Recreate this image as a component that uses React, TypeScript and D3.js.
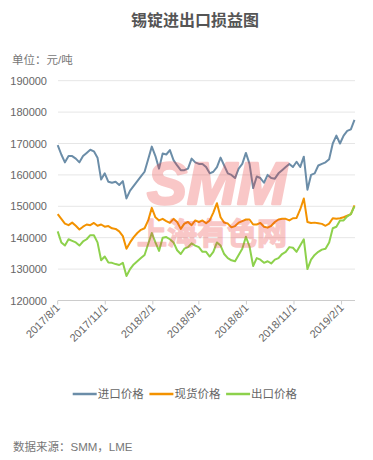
import * as d3 from "d3";
import React from "react";

// weekly readings, 2017/8/1 .. 2019/2/26 (元/吨)
const startDate = new Date(2017, 7, 1);
const importPrice = [
  169500, 166500, 164000, 166000, 166000, 165200, 164000, 166000, 167000, 168000,
  167500, 165500, 158500, 160500, 157800, 157500, 157800, 156800, 158000, 152500,
  155000, 156500, 158000, 159500, 161000, 165000, 169000, 166000, 162000, 166800,
  166500, 167900, 164700, 163000, 161500, 161500, 162000, 165200, 164000, 163500,
  163500, 162500, 160500, 161000, 162500, 165500, 163000, 160500, 160000, 159000,
  162000, 163500, 167000, 163500, 155800, 159500, 159000, 157500, 160000, 159000,
  158800, 160500, 161500, 162500, 163500, 162500, 164200, 162500, 165800, 155300,
  160000, 160500, 163000, 163500, 164000, 165000, 170000, 172500, 170000, 172500,
  174000, 174500, 177500
];
const spotPrice = [
  147500, 146000, 144500, 144000, 144800, 143800, 142600, 143500, 144200, 144000,
  144700, 143800, 144200, 143500, 143700, 143000, 142800, 142000, 140500, 136500,
  138500, 140200, 141500, 142500, 143000, 145500, 149500, 146500, 145500, 146000,
  145300, 144700, 146000, 145000, 142800, 144500, 145000, 144000, 145500, 145000,
  145500, 144600, 145500, 148000, 151000, 146500, 144800, 144500, 143300, 143700,
  144800, 145300, 145800, 145800, 144200, 144200, 144700, 143500, 143200, 143800,
  145000, 145800, 146000, 146000, 145500, 146200, 146300, 149000, 152500, 145000,
  144700, 144800, 144600, 144400, 143800, 144500, 146200, 146000, 146200, 146500,
  147000, 147500, 150300
];
const exportPrice = [
  142000, 138500, 137500, 139500, 139000, 138500, 137500, 138800, 139500, 140800,
  140800, 138500, 132800, 134000, 132100, 132000, 131600, 131300, 132000, 127800,
  130000, 131500, 132500, 133500, 134500, 138000, 141500, 138500, 135800, 140000,
  140200, 139500, 138500, 136000, 134800, 136500, 137000, 138200, 137500, 137000,
  135500, 135500, 134000, 135500, 138500, 137500, 134800, 133500, 132800, 132500,
  134500, 136500, 140300, 137200, 131000, 133500, 133000, 132000, 132500, 131800,
  133000, 133500, 134800, 135500, 137000, 136800, 135500, 137500, 139500, 130000,
  133000, 134500, 135500, 136200, 136500, 138500, 143000, 143500, 145500, 145500,
  146800, 147500, 150000
];
const dates = importPrice.map((_, i) => d3.timeDay.offset(startDate, i * 7));

const seriesNames = ["进口价格", "现货价格", "出口价格"];
const seriesColors = ["#6b8da8", "#f39200", "#8dd14c"];
const seriesValues = [importPrice, spotPrice, exportPrice];

const yTicks = [120000, 130000, 140000, 150000, 160000, 170000, 180000, 190000];
const xTickLabels = ["2017/8/1", "2017/11/1", "2018/2/1", "2018/5/1", "2018/8/1", "2018/11/1", "2019/2/1"];

const W = 373;
const H = 460;
const font = "'Liberation Sans', 'Noto Sans CJK SC', sans-serif";

export default function App() {
  const parse = d3.timeParse("%Y/%m/%d");

  const x = d3
    .scaleTime()
    .domain([new Date(2017, 7, 1), new Date(2019, 1, 27)])
    .range([57.7, 355]);
  const y = d3.scaleLinear().domain([120000, 190000]).range([300.5, 80.7]);

  const line = d3
    .line<number>()
    .x((_, i) => x(dates[i]))
    .y(d => y(d));

  const legendStart = 72.7;
  const legendStep = 76.7;

  return (
    <svg width={W} height={H} style={{position: "absolute", left: 0, top: 0, background: "#fff"}} fontFamily={font}>
      <text x={195} y={26} textAnchor="middle" fontSize={16} fontWeight="bold" fill="#555">
        锡锭进出口损益图
      </text>
      <text x={12} y={64} fontSize={11.5} fill="#777">单位：元/吨</text>

      {/* grid + y labels */}
      {yTicks.map(t => (
        <g key={t}>
          {t > 120000 && (
            <line x1={58} x2={355} y1={y(t)} y2={y(t)} stroke="#e6e6e6" strokeWidth={1}/>
          )}
          <text x={47} y={y(t) + 4} textAnchor="end" fontSize={11} fill="#666">{t}</text>
        </g>
      ))}

      {/* x axis */}
      <line x1={58} x2={355} y1={y(120000)} y2={y(120000)} stroke="#ccc" strokeWidth={1}/>
      {xTickLabels.map(lbl => {
        const tx = x(parse(lbl) as Date);
        return (
          <g key={lbl}>
            <line x1={tx} x2={tx} y1={y(120000)} y2={y(120000) + 4} stroke="#ccc"/>
            <text
              transform={`translate(${tx + 3},${y(120000) + 8}) rotate(-45)`}
              textAnchor="end"
              fontSize={11}
              fill="#666"
            >
              {lbl}
            </text>
          </g>
        );
      })}

      {/* lines */}
      {seriesValues.map((vals, k) => (
        <path
          key={seriesNames[k]}
          d={line(vals) || ""}
          fill="none"
          stroke={seriesColors[k]}
          strokeWidth={2}
          strokeLinejoin="round"
        />
      ))}

      {/* watermark */}
      <g fill="#ea3a3a" stroke="#ea3a3a" opacity={0.28}>
        <text x={217} y={204} textAnchor="middle" fontSize={60} fontWeight="bold" fontStyle="italic"
              strokeWidth={2.5} strokeLinejoin="round"
              fontFamily="'Liberation Sans', sans-serif">SMM</text>
        <text x={212} y={244} textAnchor="middle" fontSize={30} fontWeight="bold"
              strokeWidth={1.5} strokeLinejoin="round"
              fontFamily="'Noto Sans CJK SC', sans-serif">上海有色网</text>
      </g>

      {/* legend */}
      {seriesNames.map((name, k) => {
        const lx = legendStart + k * legendStep;
        return (
          <g key={name}>
            <line x1={lx} x2={lx + 24} y1={394} y2={394} stroke={seriesColors[k]} strokeWidth={2.5}/>
            <text x={lx + 25} y={398} fontSize={11.5} fill="#666">{name}</text>
          </g>
        );
      })}

      <text x={13} y={451} fontSize={11.5} fill="#777">数据来源：SMM，LME</text>
    </svg>
  );
}
